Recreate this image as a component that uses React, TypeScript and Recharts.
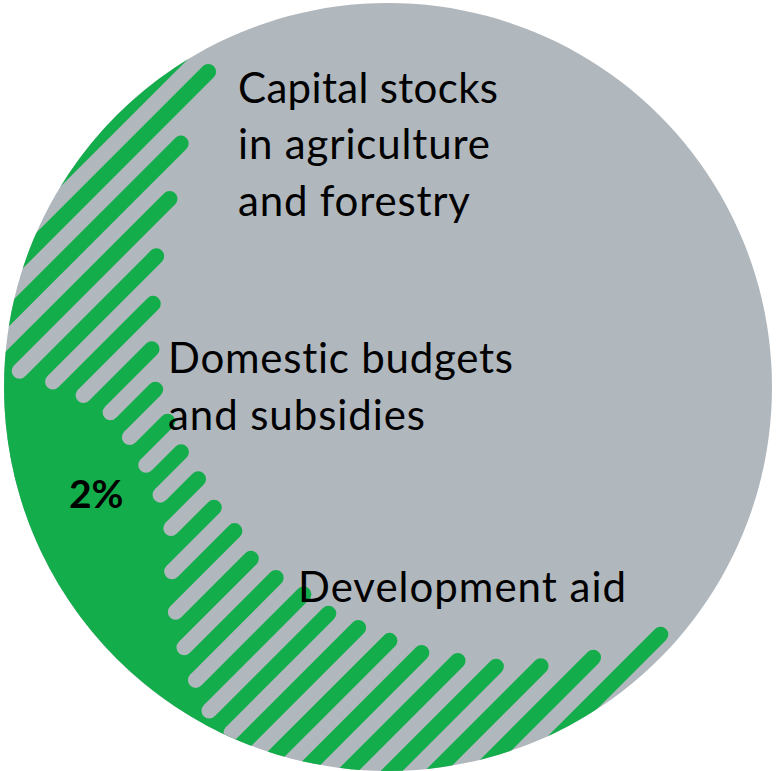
import { Bar, BarChart, Pie, PieChart, XAxis, YAxis } from "recharts"

const W = 777
const H = 771
const GREY = "#b0b7bd"
const GREEN = "#13ae4b"

// circle
const CX = 388
const CY = 387
const R = 384

const labels = ["Capital stocks in agriculture and forestry", "Domestic budgets and subsidies", "Development aid"]
const shareLabel = "2%"

// green hatch stripes: where each stripe's round end sits, along the hatch direction
const stripeEnds = [
	420, 97, 27, -20, -70, -106, -139, -165, -179, -191, -198, -207, -209,
	-217, -213, -205, -201, -190, -177, -163, -143, -120, -88, -45, 19,
]
// grey gaps cutting into the solid green area (null = gap runs out to the rim)
const notchEnds = [
	null, null, null, -248, -232, -220, -213, -217, -225, -236, -252, -282, -308,
	-327, -342, -354, -354, null, null, null, null, null, null, null, null,
]

const rows = stripeEnds.flatMap((end, i) => [
	{ row: `s${i}`, kind: "stripe", end },
	{ row: `g${i}`, kind: "gap", end: notchEnds[i] },
])

// hatch frame (u along stripes, v across them), rotated -45deg onto the page
const U_MIN = -440
const U_MAX = 440
const ROW = 15.6
const V_MIN = 159
const V_MAX = V_MIN + ROW * rows.length
const K = Math.SQRT1_2
const LEFT = K * (U_MIN + V_MIN)
const TOP = K * (V_MIN - U_MIN)

const HatchShape = (props: any) => {
	const { x, y, width, height, payload } = props
	if (!payload || payload.end == null || !(width > 0)) return <g />
	if (payload.kind === "stripe") {
		return <rect x={x} y={y} width={width + height / 2} height={height} rx={height / 2} ry={height / 2} fill={GREEN} />
	}
	return (
		<g>
			<rect x={x} y={y - 0.8} width={width} height={height + 1.6} fill={GREEN} />
			<circle cx={x + width} cy={y + height / 2} r={height / 2} fill={GREY} />
		</g>
	)
}

const font = "Lato, 'Open Sans', sans-serif"

export default function App() {
	return (
		<div style={{ position: "absolute", left: 0, top: 0, width: W, height: H, background: "#fff" }}>
			<div style={{ position: "absolute", left: 0, top: 0 }}>
				<PieChart width={W} height={H} margin={{ top: 0, right: 0, bottom: 0, left: 0 }}>
					<Pie
						data={[{ name: labels[0], value: 1 }]}
						dataKey="value"
						cx={CX}
						cy={CY}
						innerRadius={0}
						outerRadius={R}
						startAngle={90}
						endAngle={-270}
						fill={GREY}
						stroke="none"
						isAnimationActive={false}
					/>
				</PieChart>
			</div>
			<div
				style={{
					position: "absolute",
					left: 0,
					top: 0,
					width: W,
					height: H,
					clipPath: `circle(${R}px at ${CX}px ${CY}px)`,
				}}
			>
				<div style={{ position: "absolute", left: LEFT, top: TOP, transformOrigin: "0 0", transform: "rotate(-45deg)" }}>
					<BarChart
						width={U_MAX - U_MIN}
						height={V_MAX - V_MIN}
						data={rows}
						layout="vertical"
						margin={{ top: 0, right: 0, bottom: 0, left: 0 }}
						barCategoryGap={0}
						barGap={0}
					>
						<XAxis type="number" domain={[U_MIN, U_MAX]} allowDataOverflow hide />
						<YAxis type="category" dataKey="row" hide />
						<Bar
							dataKey={(d: any) => (d.end == null ? null : [U_MIN, d.end])}
							barSize={15.59}
							shape={HatchShape}
							isAnimationActive={false}
						/>
					</BarChart>
				</div>
			</div>
			<svg width={W} height={H} style={{ position: "absolute", left: 0, top: 0, fontVariantLigatures: "none" }}>
				<g fontFamily={font} fontSize={42} fill="#000">
					<text x={238} y={103} textLength={260}>Capital stocks</text>
					<text x={238} y={159} textLength={252}>in agriculture</text>
					<text x={238} y={216} textLength={232}>and forestry</text>
					<text x={168} y={373} textLength={345}>Domestic budgets</text>
					<text x={168} y={430} textLength={257}>and subsidies</text>
					<text x={298} y={602} textLength={328}>{labels[2]}</text>
					<text x={69} y={508} fontWeight="bold" fontSize={39}>{shareLabel}</text>
				</g>
			</svg>
		</div>
	)
}
